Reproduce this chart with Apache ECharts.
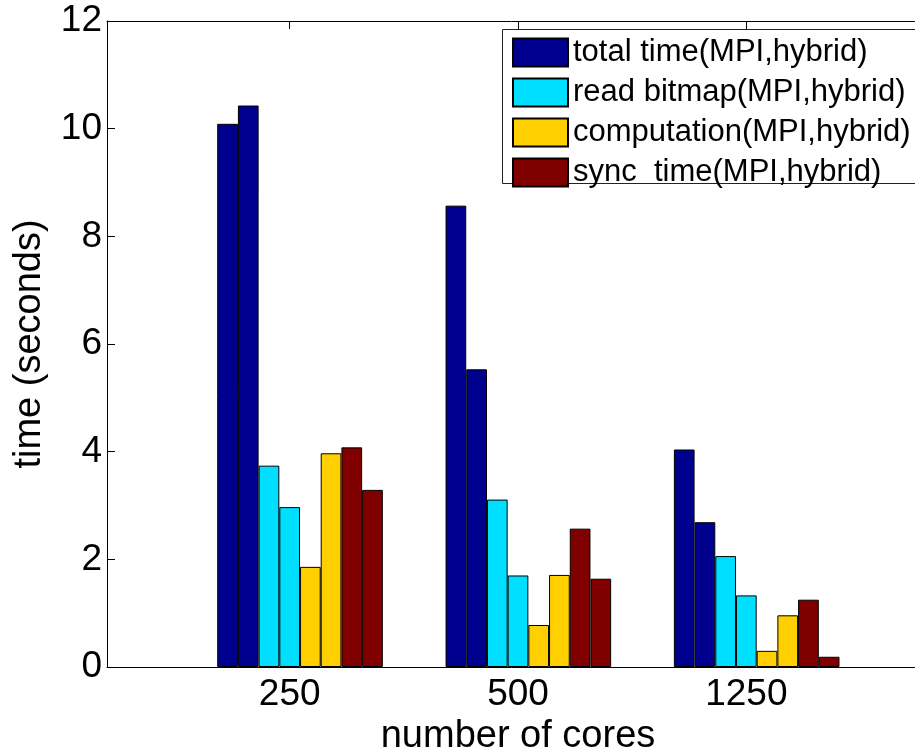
<!DOCTYPE html>
<html>
<head>
<meta charset="utf-8">
<title>time vs number of cores</title>
<script src="https://cdn.jsdelivr.net/npm/echarts@6/dist/echarts.min.js"></script>
<style>
  html, body { margin: 0; padding: 0; background: #fff; }
  #chart_div { width: 915px; height: 747px; }
</style>
</head>
<body>
<div id="chart_div"></div>
<script>
// categories (x positions 1,2,3 on the axis)
var cores = ['250', '500', '1250'];
var xPos = [1, 2, 3];

// values, seconds
var totalMPI = [10.09, 8.57, 4.04];
var totalHybrid = [10.43, 5.53, 2.69];
var readMPI = [3.74, 3.11, 2.06];
var readHybrid = [2.97, 1.70, 1.33];
var compMPI = [1.86, 0.78, 0.30];
var compHybrid = [3.97, 1.71, 0.96];
var syncMPI = [4.08, 2.57, 1.25];
var syncHybrid = [3.29, 1.64, 0.19];

var names = ['total time(MPI,hybrid)', 'read bitmap(MPI,hybrid)', 'computation(MPI,hybrid)', 'sync  time(MPI,hybrid)'];
var colors = ['#00008f', '#00dfff', '#ffcf00', '#800000'];
var yTicks = [0, 2, 4, 6, 8, 10, 12];

var FONT = 'Liberation Sans, Arial, Helvetica, sans-serif';

function pts(arr) {
	var out = [];
	for (var i = 0; i < arr.length; i++) {
		out.push([xPos[i], arr[i]]);
	}
	return out;
}

function barSeries(name, color, arr) {
	return {
		name: name,
		type: 'bar',
		barWidth: 20.7,
		barGap: '0%',
		data: pts(arr),
		itemStyle: { color: color, borderColor: '#000', borderWidth: 1 }
	};
}

var myChart = echarts.init(document.getElementById('chart_div'), null, { renderer: 'canvas' });

var option = {
	animation: false,
	backgroundColor: '#fff',
	textStyle: { fontFamily: FONT, color: '#000' },
	grid: {
		left: 107, top: 21, width: 822, height: 646,
		containLabel: false,
		outerBoundsMode: 'none'
	},
	// legend frame runs off the right edge, as in the original
	graphic: [{
		type: 'rect',
		left: 502,
		top: 29,
		z: 3,
		shape: { width: 480, height: 154 },
		style: { fill: '#fff', stroke: '#222', lineWidth: 1 }
	}],
	legend: {
		data: names,
		orient: 'vertical',
		left: 502,
		top: 29,
		z: 4,
		padding: [8, 10, 7, 10],
		itemWidth: 55,
		itemHeight: 28,
		itemGap: 9,
		icon: 'rect',
		borderWidth: 0,
		textStyle: { fontFamily: FONT, fontSize: 31, color: '#000', lineHeight: 28 }
	},
	xAxis: [{
		type: 'value',
		position: 'bottom',
		min: 0.2,
		max: 3.8,
		name: 'number of cores',
		nameLocation: 'middle',
		nameGap: 37,
		nameTextStyle: { fontFamily: FONT, fontSize: 38, color: '#000' },
		axisLine: { show: true, lineStyle: { color: '#000', width: 1 } },
		axisTick: { show: true, inside: true, length: 8, customValues: xPos, lineStyle: { color: '#000' } },
		axisLabel: {
			customValues: xPos,
			fontFamily: FONT, fontSize: 37, color: '#000', margin: 9,
			formatter: function (v) { return cores[Math.round(v) - 1]; }
		},
		splitLine: { show: false }
	}, {
		type: 'value',
		position: 'top',
		min: 0.2,
		max: 3.8,
		axisLine: { show: true, lineStyle: { color: '#000', width: 1 } },
		axisTick: { show: true, inside: true, length: 8, customValues: xPos, lineStyle: { color: '#000' } },
		axisLabel: { show: false },
		splitLine: { show: false }
	}],
	yAxis: {
		type: 'value',
		min: 0,
		max: 12,
		interval: 2,
		name: 'time (seconds)',
		nameLocation: 'middle',
		nameGap: 58,
		nameTextStyle: { fontFamily: FONT, fontSize: 38, color: '#000' },
		axisLine: { show: true, lineStyle: { color: '#000', width: 1 } },
		axisTick: { show: true, inside: true, length: 8, lineStyle: { color: '#000' } },
		axisLabel: {
			fontFamily: FONT, fontSize: 37, color: '#000', margin: 5,
			formatter: function (v) { return yTicks.indexOf(v) >= 0 ? String(v) : ''; }
		},
		splitLine: { show: false }
	},
	series: [
		// empty first slot, like the matlab group offset
		{
			name: 'pad', type: 'bar', barWidth: 20.7, barGap: '0%',
			data: pts([0, 0, 0]),
			itemStyle: { color: 'rgba(0,0,0,0)', borderWidth: 0 }
		},
		barSeries(names[0], colors[0], totalMPI),
		barSeries(names[0], colors[0], totalHybrid),
		barSeries(names[1], colors[1], readMPI),
		barSeries(names[1], colors[1], readHybrid),
		barSeries(names[2], colors[2], compMPI),
		barSeries(names[2], colors[2], compHybrid),
		barSeries(names[3], colors[3], syncMPI),
		barSeries(names[3], colors[3], syncHybrid)
	]
};

myChart.setOption(option);
</script>
</body>
</html>
